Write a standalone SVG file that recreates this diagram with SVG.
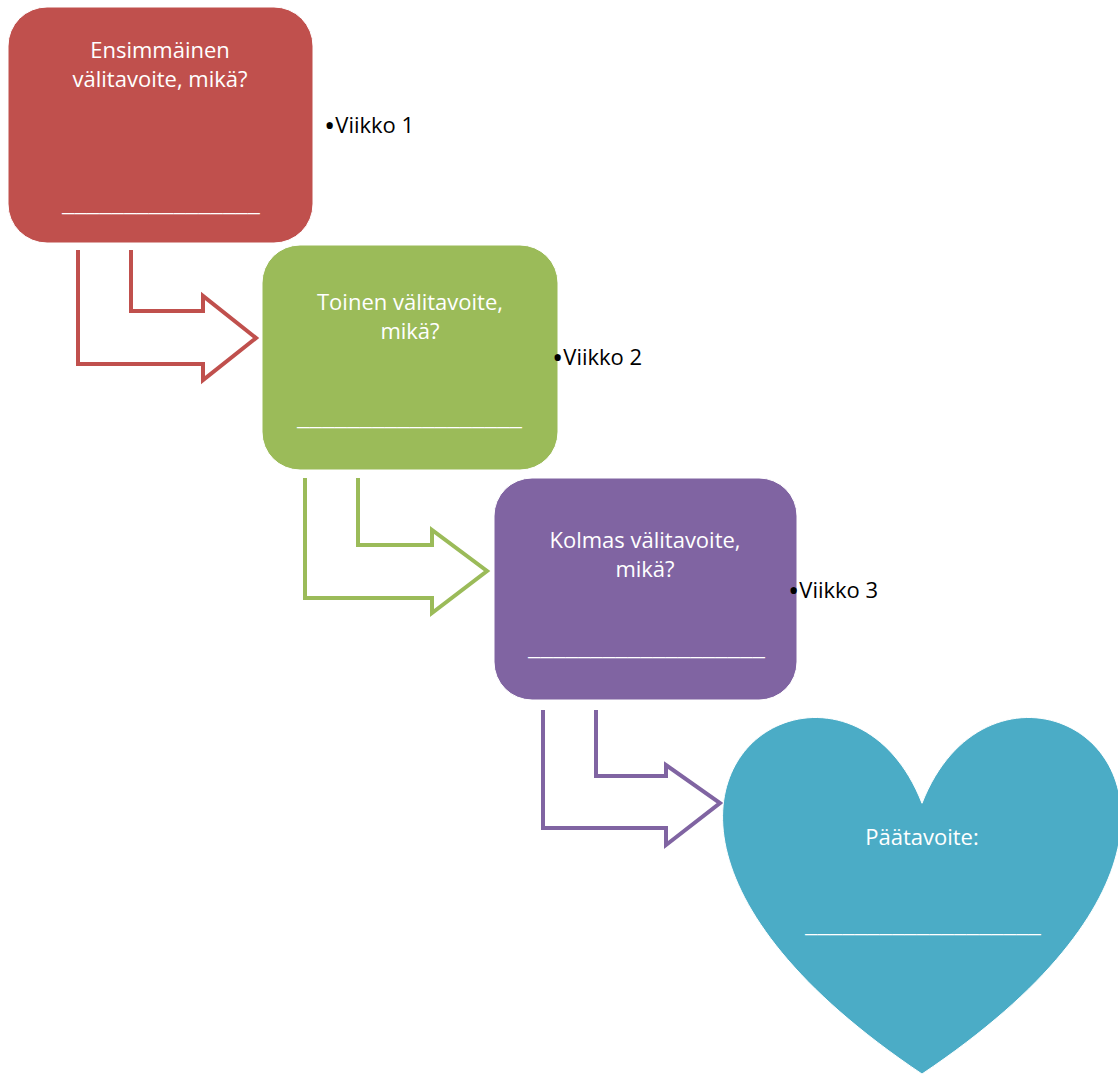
<svg xmlns="http://www.w3.org/2000/svg" width="1118" height="1075" viewBox="0 0 1118 1075">
<style>
.box{stroke:#fff;stroke-width:1}
.lbl{font-family:"Open Sans","Liberation Sans",sans-serif;font-size:22px;fill:#fff;text-anchor:middle}
.ul{font-family:"Open Sans","Liberation Sans",sans-serif;font-size:22px;fill:#fff}
.wk{font-family:"Open Sans","Liberation Sans",sans-serif;font-size:22px;fill:#000}
.bul{font-size:30px}
.arr{fill:none;stroke-width:4;stroke-linejoin:miter}
</style>
<rect width="1118" height="1075" fill="#fff"/>
<g id="connectors">
<path class="arr" stroke="#C0504D" d="M78,250 L78,364 L203,364 L203,380 L256,338 L203,296 L203,311 L131,311 L131,250"/>
<path class="arr" stroke="#9BBB59" d="M305,478 L305,598 L432,598 L432,613 L487,571 L432,530 L432,545 L358,545 L358,478"/>
<path class="arr" stroke="#8064A2" d="M543,710 L543,828 L666,828 L666,845 L720,803 L666,765 L666,776 L596,776 L596,710"/>
</g>
<g id="node1">
<rect class="box" x="8" y="7" width="305" height="236" rx="39" fill="#C0504D"/>
<text class="lbl" x="160" y="58">Ensimmäinen</text>
<text class="lbl" x="160" y="87">välitavoite, mikä?</text>
<text class="ul" x="62" y="211" textLength="198" lengthAdjust="spacingAndGlyphs">________________</text>
</g>
<g id="node2">
<rect class="box" x="262" y="245" width="296" height="225" rx="38" fill="#9BBB59"/>
<text class="lbl" x="410" y="310">Toinen välitavoite,</text>
<text class="lbl" x="410" y="339">mikä?</text>
<text class="ul" x="297" y="425" textLength="225" lengthAdjust="spacingAndGlyphs">__________________</text>
</g>
<g id="node3">
<rect class="box" x="494" y="478" width="303" height="222" rx="38" fill="#8064A2"/>
<text class="lbl" x="645" y="548">Kolmas välitavoite,</text>
<text class="lbl" x="645" y="577">mikä?</text>
<text class="ul" x="528" y="655" textLength="237" lengthAdjust="spacingAndGlyphs">___________________</text>
</g>
<g id="node4">
<path class="box" fill="#4BACC6" d="M922,803.25 C1004.5,592.7 1326.25,803.25 922,1074 C517.75,803.25 839.5,592.7 922,803.25 Z"/>
<text class="lbl" x="922" y="845">Päätavoite:</text>
<text class="ul" x="805" y="932" textLength="236" lengthAdjust="spacingAndGlyphs">___________________</text>
</g>
<g id="week1"><text class="wk" x="324" y="133"><tspan class="bul" dy="3">•</tspan><tspan dy="-3">Viikko 1</tspan></text></g>
<g id="week2"><text class="wk" x="552" y="365"><tspan class="bul" dy="3">•</tspan><tspan dy="-3">Viikko 2</tspan></text></g>
<g id="week3"><text class="wk" x="788" y="598"><tspan class="bul" dy="3">•</tspan><tspan dy="-3">Viikko 3</tspan></text></g>
</svg>
